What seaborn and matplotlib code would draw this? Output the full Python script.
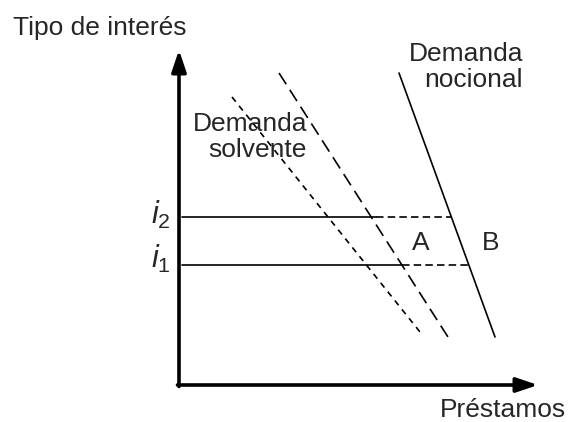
import pandas as pd
import seaborn as sns
import matplotlib.pyplot as plt

sns.set_style("white")
plt.rcParams['font.family'] = ['Liberation Sans', 'DejaVu Sans']
plt.rcParams['mathtext.fontset'] = 'custom'
plt.rcParams['mathtext.it'] = 'Liberation Sans:italic'
plt.rcParams['mathtext.rm'] = 'Liberation Sans'

# conceptual diagram, units = loans (x) / interest rate (y)
notional_x = [220, 316]
notional_y = [312, 48]
solv_hi_x = [100, 269]
solv_hi_y = [312, 48]
solv_lo_x = [53, 241]
solv_lo_y = [288, 53]

rates = {"i2": 168, "i1": 120}
solid_end = {"i2": 197, "i1": 223}
dash_end = {"i2": 273, "i1": 293}
rate_labels = {"i2": "$i_2$", "i1": "$i_1$"}

fig = plt.figure(figsize=(5.72, 4.22), dpi=100)
ax = fig.add_axes([0, 0, 1, 1])
ax.set_xlim(-179, 393)
ax.set_ylim(-37, 385)
ax.axis("off")

df = pd.DataFrame({"x": notional_x, "y": notional_y})
sns.lineplot(x="x", y="y", data=df, ax=ax, color="black", lw=1.2)
sns.lineplot(x=solv_hi_x, y=solv_hi_y, ax=ax, color="black", lw=1.2, linestyle=(0, (8, 4)))
sns.lineplot(x=solv_lo_x, y=solv_lo_y, ax=ax, color="black", lw=1.2, linestyle=(0, (3.6, 3.2)))

for k in rates:
    r = rates[k]
    sns.lineplot(x=[3, solid_end[k]], y=[r, r], ax=ax, color="black", lw=1.2)
    sns.lineplot(x=[solid_end[k], dash_end[k]], y=[r, r], ax=ax, color="black", lw=1.2,
                 linestyle=(0, (4.5, 2.5)))

# axes with arrows
arrow = dict(arrowstyle="-|>,head_length=0.65,head_width=0.22", mutation_scale=20,
             lw=2.6, color="black", shrinkA=0, shrinkB=0)
ax.annotate("", xy=(0, 335), xytext=(0, -1.5), arrowprops=arrow)
ax.annotate("", xy=(359, 0), xytext=(-1.5, 0), arrowprops=arrow)

fs = 19
ax.text(-166, 357, "Tipo de interés", fontsize=fs, ha="left", va="center")
ax.text(387, -25, "Préstamos", fontsize=fs, ha="right", va="center")
ax.text(344, 318, "Demanda\nnocional", fontsize=fs, ha="right", va="center",
        multialignment="right", linespacing=1.15)
ax.text(128, 248, "Demanda\nsolvente", fontsize=fs, ha="right", va="center",
        multialignment="right", linespacing=1.15)
ax.text(242, 142, "A", fontsize=fs, ha="center", va="center")
ax.text(312, 142, "B", fontsize=fs, ha="center", va="center")
ax.text(-8, 170, rate_labels["i2"], fontsize=fs + 3, ha="right", va="center")
ax.text(-8, 126, rate_labels["i1"], fontsize=fs + 3, ha="right", va="center")

plt.savefig("out.png", dpi=100)
